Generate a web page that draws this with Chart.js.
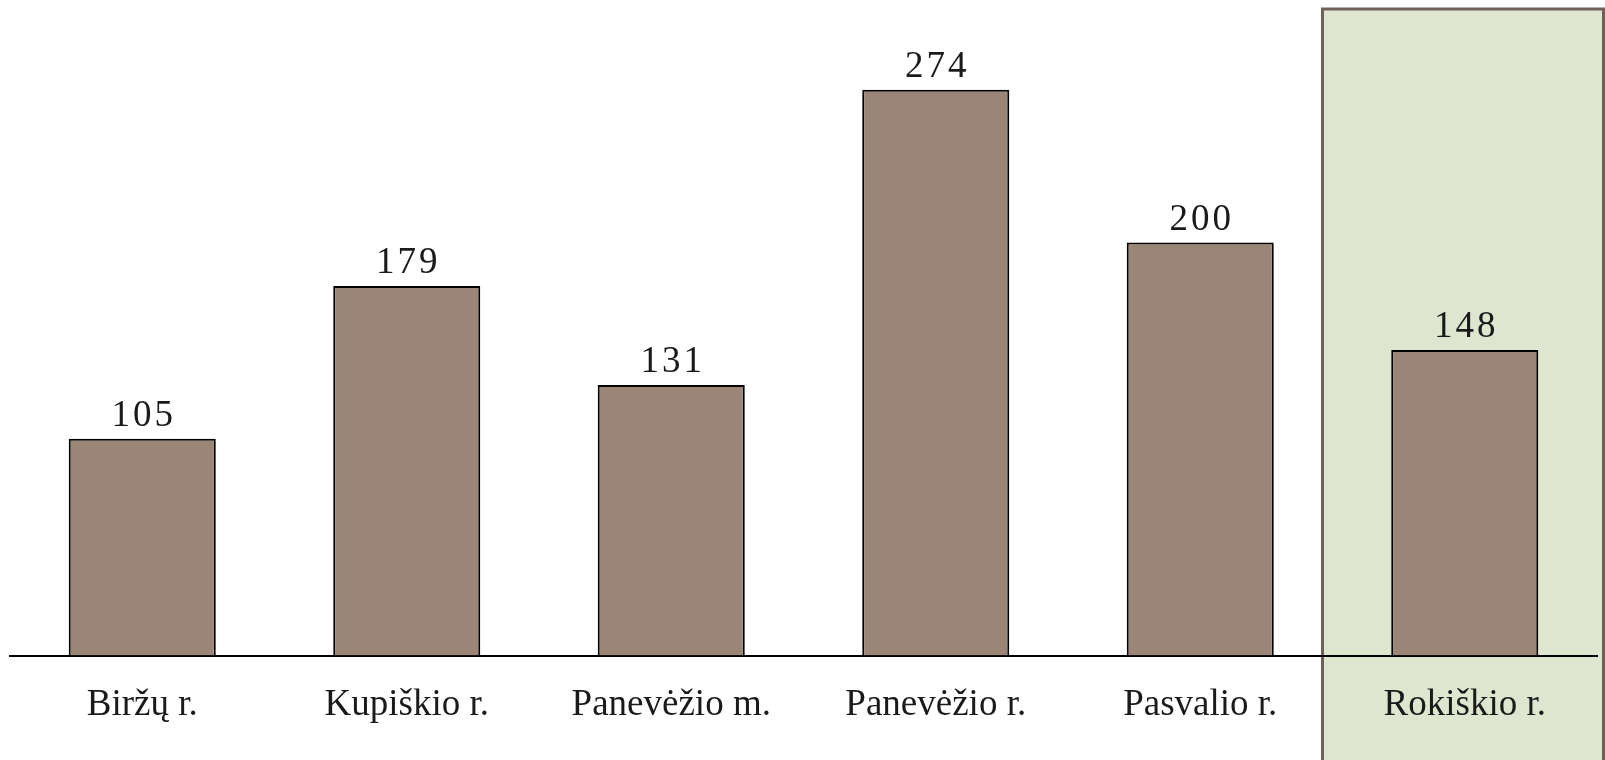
<!DOCTYPE html>
<html>
<head>
<meta charset="utf-8">
<script src="https://cdn.jsdelivr.net/npm/chart.js@4"></script>
<style>
  html, body { margin:0; padding:0; background:#fff; }
  #wrap { width:1605px; height:760px; }
</style>
</head>
<body>
<div id="wrap"><canvas id="c"></canvas></div>
<script>
const regions = ['Biržų r.', 'Kupiškio r.', 'Panevėžio m.', 'Panevėžio r.', 'Pasvalio r.', 'Rokiškio r.'];
const counts = [105, 179, 131, 274, 200, 148];
const highlightIdx = 5;

const FONT = '"Liberation Serif", "DejaVu Serif", serif';

// shaded box behind the highlighted category
const highlightBox = {
  id: 'highlightBox',
  beforeDraw(chart){
    const {ctx, chartArea, scales:{x}} = chart;
    const step = x.getPixelForValue(1) - x.getPixelForValue(0);
    const left = x.getPixelForValue(highlightIdx) - step/2 - 10;
    const top = chartArea.top - 27;
    ctx.save();
    ctx.fillStyle = '#dfe6cf';
    ctx.fillRect(left, top, chart.width - left, chart.height - top + 5);
    ctx.strokeStyle = '#706259';
    ctx.lineWidth = 3;
    ctx.strokeRect(left, top, chart.width - left - 1.5, chart.height - top + 10);
    ctx.restore();
  }
};

// numbers above bars
const valueLabels = {
  id: 'valueLabels',
  afterDatasetsDraw(chart){
    const {ctx} = chart;
    const meta = chart.getDatasetMeta(0);
    ctx.save();
    ctx.font = '37px ' + FONT;
    ctx.letterSpacing = '3px';
    ctx.fillStyle = '#1a1a1a';
    ctx.textAlign = 'center';
    ctx.textBaseline = 'alphabetic';
    meta.data.forEach((bar, i) => {
      ctx.fillText(String(counts[i]), bar.x + 1.5, bar.y - 13);
    });
    ctx.restore();
  }
};

new Chart(document.getElementById('c'), {
  type: 'bar',
  data: {
    labels: regions,
    datasets: [{
      data: counts,
      backgroundColor: '#9b8577',
      borderColor: '#000',
      borderWidth: 2,
      borderSkipped: 'bottom',
      categoryPercentage: 1,
      barPercentage: 0.556
    }]
  },
  options: {
    responsive: true,
    maintainAspectRatio: false,
    animation: false,
    layout: { padding: { left: 10, right: 8, top: 36, bottom: 6 } },
    plugins: { legend: { display: false }, tooltip: { enabled: false } },
    scales: {
      x: {
        grid: { display: false, drawTicks: false },
        border: { display: true, color: '#000', width: 2 },
        ticks: { color: '#1a1a1a', padding: 27, font: { family: FONT, size: 37 } }
      },
      y: {
        display: false,
        min: 0, max: 300
      }
    }
  },
  plugins: [highlightBox, valueLabels]
});
</script>
</body>
</html>
